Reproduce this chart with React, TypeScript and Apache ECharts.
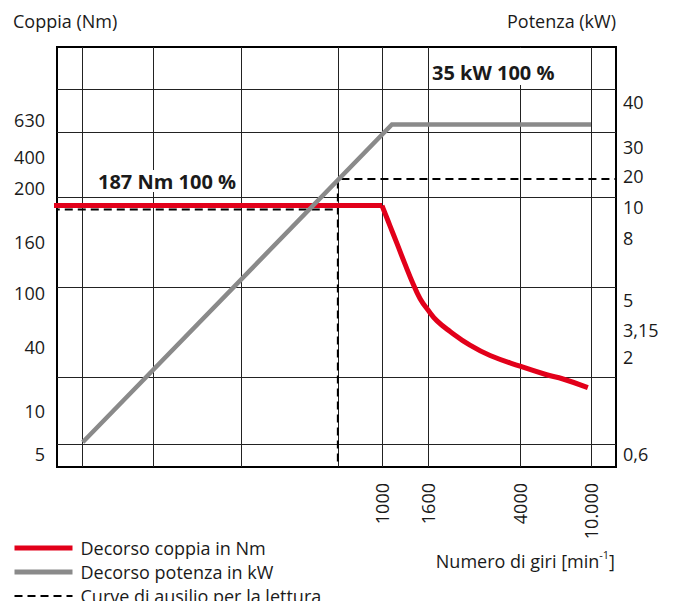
import React, { useEffect, useRef } from 'react';
import * as echarts from 'echarts';

// ---- Data ----
const rpmTicks = [1000, 1600, 4000, 10000];
const rpmTickLabels = ['1000', '1600', '4000', '10.000'];
const torqueTicks = [5, 10, 40, 100, 160, 200, 400, 630];
const torqueTickLabels = ['5', '10', '40', '100', '160', '200', '400', '630'];
const powerTicks = [0.6, 2, 3.15, 5, 8, 10, 20, 30, 40];
const powerTickLabels = ['0,6', '2', '3,15', '5', '8', '10', '20', '30', '40'];

// Torque (Nm) vs speed (min^-1): constant part, then falling part
const torqueFlatRpm = [30, 1000];
const torqueFlatNm = [187, 187];
const torqueFallRpm = [1000, 1085, 1166, 1265, 1373, 1474, 1600, 1750, 2000, 2430, 2970, 4000, 5640, 6970, 9600];
const torqueFallNm = [187, 172, 158, 134, 111, 94, 81, 69, 57, 42, 36, 31, 27, 25, 21];

// Power curve (kW) vs speed (min^-1)
const powerRpm = [47, 1107, 10000];
const powerKw = [0.77, 35, 35];

// Reading aid lines
const aidTorqueRpm = [30, 637];
const aidTorqueNm = [184, 184];
const aidPowerRpm = [15000, 637, 637];
const aidPowerKw = [19, 19, 0.3];

// ---- Nomogram scale layout (percent of plot area) ----
const RPM_POS = [58.14, 66.37, 82.83, 95.53];
const TORQUE_POS = [3.1, 13.33, 28.57, 41.43, 53.57, 66.43, 73.81, 82.62];
const POWER_POS = [3.1, 26.19, 32.62, 39.76, 54.52, 61.9, 69.29, 76.19, 86.9];
const GRID_COLS = [4.47, 17.17, 32.92, 50.27, 58.14, 66.37, 82.83, 95.53];
const GRID_ROWS = [5.48, 21.43, 42.86, 64.29, 79.76, 90.0];

const FONT = '"Open Sans", sans-serif';
const TEXT = '#1a1a1a';
const RED = '#e2001a';
const GRAY = '#8a8a8a';

function interp(v: number, keys: number[], pos: number[]) {
  const n = keys.length;
  let i = 0;
  if (v <= keys[0]) i = 0;
  else if (v >= keys[n - 1]) i = n - 2;
  else {
    for (let k = 0; k < n - 1; k++) {
      if (v >= keys[k] && v <= keys[k + 1]) { i = k; break; }
    }
  }
  return pos[i] + ((v - keys[i]) * (pos[i + 1] - pos[i])) / (keys[i + 1] - keys[i]);
}
const logRpm = rpmTicks.map((r) => Math.log10(r));
const xOf = (rpm: number) => interp(Math.log10(rpm), logRpm, RPM_POS);
const yTorque = (nm: number) => interp(nm, torqueTicks, TORQUE_POS);
const yPower = (kw: number) => interp(kw, powerTicks, POWER_POS);

function labelAt(v: number, pos: number[], labels: string[]) {
  let best = -1;
  let d = Infinity;
  pos.forEach((p, i) => {
    const dd = Math.abs(p - v);
    if (dd < d) { d = dd; best = i; }
  });
  return d < 0.01 ? labels[best] : '';
}

export default function App() {
  const ref = useRef<HTMLDivElement>(null);
  useEffect(() => {
    if (!ref.current) return;
    const chart = echarts.init(ref.current, undefined, { renderer: 'svg' });
    const gridLine = { color: '#222', width: 1 };
    const aidStyle = { color: '#000', width: 2, type: [8, 5] };
    const option: any = {
      animation: false,
      textStyle: { fontFamily: FONT, color: TEXT },
      grid: {
        left: 57, right: 57, top: 47, bottom: 142,
        show: true, borderColor: '#000', borderWidth: 2,
        containLabel: false, outerBoundsMode: 'none',
      },
      xAxis: {
        type: 'value', min: 0, max: 100,
        axisLine: { show: false },
        axisTick: { show: false, customValues: GRID_COLS },
        splitLine: { show: true, lineStyle: gridLine },
        axisLabel: {
          customValues: RPM_POS, rotate: 90, margin: 16, fontSize: 18, color: TEXT, fontFamily: FONT,
          formatter: (v: number) => labelAt(v, RPM_POS, rpmTickLabels),
        },
      },
      yAxis: [
        {
          type: 'value', position: 'left', min: 0, max: 100,
          axisLine: { show: false },
          axisTick: { show: false, customValues: GRID_ROWS },
          splitLine: { show: true, lineStyle: gridLine },
          axisLabel: {
            customValues: TORQUE_POS, margin: 12, fontSize: 18, color: TEXT, fontFamily: FONT,
            formatter: (v: number) => labelAt(v, TORQUE_POS, torqueTickLabels),
          },
        },
        {
          type: 'value', position: 'right', min: 0, max: 100,
          axisLine: { show: false },
          axisTick: { show: false },
          splitLine: { show: false },
          axisLabel: {
            customValues: POWER_POS, margin: 7, fontSize: 18, color: TEXT, fontFamily: FONT,
            formatter: (v: number) => labelAt(v, POWER_POS, powerTickLabels),
          },
        },
      ],
      legend: {
        orient: 'vertical', left: 12, top: 539, height: 120, padding: 0, itemGap: 6,
        itemWidth: 58, itemHeight: 2, selectedMode: false,
        itemStyle: { opacity: 0 },
        textStyle: { fontSize: 18, color: TEXT, fontFamily: FONT, padding: [0, 0, 0, 3] },
        data: [
          { name: 'Decorso coppia in Nm', lineStyle: { width: 5 } },
          { name: 'Decorso potenza in kW', lineStyle: { width: 5 } },
          { name: 'Curve di ausilio per la lettura', lineStyle: { width: 2 } },
        ],
      },
      series: [
        {
          name: 'Curve di ausilio per la lettura', type: 'line', yAxisIndex: 0, symbol: 'none', z: 2,
          color: '#000', lineStyle: aidStyle,
          data: aidTorqueRpm.map((r, i) => [xOf(r), yTorque(aidTorqueNm[i])]),
        },
        {
          name: 'Curve di ausilio per la lettura', type: 'line', yAxisIndex: 1, symbol: 'none', z: 2,
          color: '#000', lineStyle: aidStyle,
          data: aidPowerRpm.map((r, i) => [xOf(r), yPower(aidPowerKw[i])]),
        },
        {
          name: 'Decorso coppia in Nm', type: 'line', yAxisIndex: 0, symbol: 'none', z: 3,
          color: RED, lineStyle: { color: RED, width: 5 },
          data: torqueFlatRpm.map((r, i) => [xOf(r), yTorque(torqueFlatNm[i])]),
        },
        {
          name: 'Decorso coppia in Nm', type: 'line', yAxisIndex: 0, symbol: 'none', z: 3,
          color: RED, smooth: 0.45, lineStyle: { color: RED, width: 5 },
          data: torqueFallRpm.map((r, i) => [xOf(r), yTorque(torqueFallNm[i])]),
        },
        {
          name: 'Decorso potenza in kW', type: 'line', yAxisIndex: 1, symbol: 'none', z: 4,
          color: GRAY, lineStyle: { color: GRAY, width: 4.5, join: 'miter' },
          data: powerRpm.map((r, i) => [xOf(r), yPower(powerKw[i])]),
        },
      ],
      graphic: [
        { type: 'text', left: 13, top: 12, style: { text: 'Coppia (Nm)', font: `18px ${FONT}`, fill: TEXT } },
        { type: 'text', right: 57, top: 12, style: { text: 'Potenza (kW)', font: `18px ${FONT}`, fill: TEXT, textAlign: 'right' } },
        {
          type: 'text', left: 429, top: 48, z: 10,
          style: { text: '35 kW 100 %', font: `bold 20px ${FONT}`, fill: TEXT, backgroundColor: '#fff', padding: [14, 4, 3, 3] },
        },
        {
          type: 'text', left: 95, top: 170, z: 10,
          style: { text: '187 Nm 100 %', font: `bold 20px ${FONT}`, fill: TEXT, backgroundColor: '#fff', padding: [1, 3, 1, 3] },
        },
        {
          type: 'text', right: 58, top: 549,
          style: {
            text: 'Numero di giri [min{sup|-1}]', font: `18px ${FONT}`, fill: TEXT, lineHeight: 24,
            rich: { sup: { fontSize: 11, fontFamily: FONT, fill: TEXT, verticalAlign: 'top', lineHeight: 12 } },
          },
        },
      ],
    };
    chart.setOption(option);
    return () => chart.dispose();
  }, []);
  return <div ref={ref} style={{ width: 673, height: 609, margin: -8 }} />;
}
